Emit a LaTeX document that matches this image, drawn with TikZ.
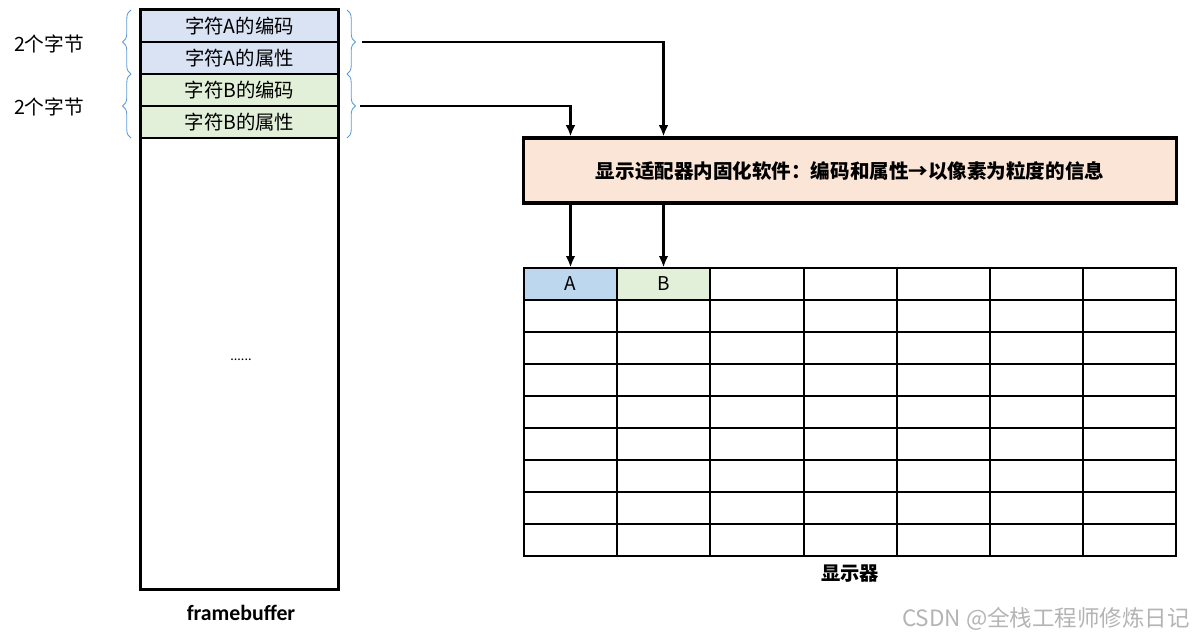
\documentclass[tikz,border=0pt]{standalone}
\usepackage{fontspec}
\setmainfont{Carlito}
\newfontfamily\cjk{Noto Sans CJK SC}
\usetikzlibrary{arrows.meta, positioning, calc, decorations.pathreplacing}
\definecolor{row-a}{HTML}{DAE3F3}
\definecolor{row-b}{HTML}{E2F0D9}
\definecolor{fw-fill}{HTML}{FBE5D6}
\definecolor{pix-a}{HTML}{BDD7EE}
\definecolor{brace-blue}{HTML}{5B9BD5}
\definecolor{mark}{HTML}{B4B4B4}
\tikzset{
  fbrow/.style={
    draw=black, thick, minimum width=4.925cm, minimum height=0.8cm,
    align=center, font=\cjk\fontsize{13.8}{15}\selectfont, inner sep=0pt
  },
  pixcell/.style={
    draw=black, line width=0.9pt, minimum width=2.33cm, minimum height=0.8cm,
    font=\cjk\fontsize{13.5}{15}\selectfont, inner sep=0pt
  },
  fwbox/.style={
    draw=black, fill=fw-fill, line width=2.2pt,
    minimum width=16.3cm, minimum height=1.625cm,
    font=\cjk\bfseries\fontsize{13.9}{15}\selectfont
  },
  data-edge/.style={-{Latex[length=2.8mm, width=2.4mm]}, line width=1.6pt},
  bytebrace/.style={draw=brace-blue, line width=0.6pt,
    decorate, decoration={brace, amplitude=6pt}},
  lbl/.style={font=\cjk\fontsize{14}{16}\selectfont}
}

\begin{document}
\begin{tikzpicture}[x=0.025cm, y=-0.025cm]
  \useasboundingbox (0,0) rectangle (1194,639);

  % ---- framebuffer column --------------------------------------------------
  \node[draw=black, line width=1.5pt, minimum width=4.925cm,
        minimum height=14.475cm, inner sep=0pt] (fb) at (239.5,299.5) {};
  \node[fbrow, fill=row-a] (a1) at (239.5,26) {字符A的编码};
  \node[fbrow, fill=row-a] (a2) at (239.5,58) {字符A的属性};
  \node[fbrow, fill=row-b] (b1) at (239.5,90) {字符B的编码};
  \node[fbrow, fill=row-b] (b2) at (239.5,122) {字符B的属性};
  \draw[line width=1.5pt] (fb.north west) rectangle (fb.south east);
  \node[font=\normalsize] (dots) at (241,360) {......};
  \node[font=\bfseries\fontsize{15.5}{17}\selectfont] (fbname) at (241,613) {framebuffer};

  % ---- byte braces ---------------------------------------------------------
  \draw[bytebrace] (131,74) -- (131,10);
  \draw[bytebrace] (131,138) -- (131,74);
  \node[lbl] (twoA) at (49,44) {2个字节};
  \node[lbl] (twoB) at (49,107) {2个字节};
  \draw[bytebrace] (347,10) -- (347,74);
  \draw[bytebrace] (347,74) -- (347,138);
  \coordinate (outA) at (362,42);
  \coordinate (outB) at (360,106);

  % ---- firmware box --------------------------------------------------------
  \node[fwbox] (fw) at (850,170.5) {显示适配器内固化软件：编码和属性→以像素为粒度的信息};

  % ---- screen --------------------------------------------------------------
  \node[pixcell, fill=pix-a] (pa) at (570.5,284) {A};
  \node[pixcell, fill=row-b] (pb) at (663.5,284) {B};
  \foreach \x in {617,710,804,897,990,1083}
    \draw[line width=0.9pt] (\x,268) -- (\x,556);
  \foreach \y in {300,332,364,396,428,460,492,524}
    \draw[line width=0.9pt] (524,\y) -- (1176,\y);
  \draw[line width=1.5pt] (524,268) rectangle (1176,556);
  \node[lbl, font=\cjk\bfseries\fontsize{13.7}{15}\selectfont] (scr) at (850,574) {显示器};

  % ---- data flow -----------------------------------------------------------
  \draw[data-edge] (outA) -| (fw.north -| pb);
  \draw[data-edge] (outB) -| (fw.north -| pa);
  \draw[data-edge] (fw.south -| pa) -- (pa.north);
  \draw[data-edge] (fw.south -| pb) -- (pb.north);

  % ---- watermark -----------------------------------------------------------
  \node[font=\cjk\fontsize{16}{18}\selectfont, text=mark] (wm) at (1046,619) {CSDN @全栈工程师修炼日记};

\end{tikzpicture}
\end{document}
